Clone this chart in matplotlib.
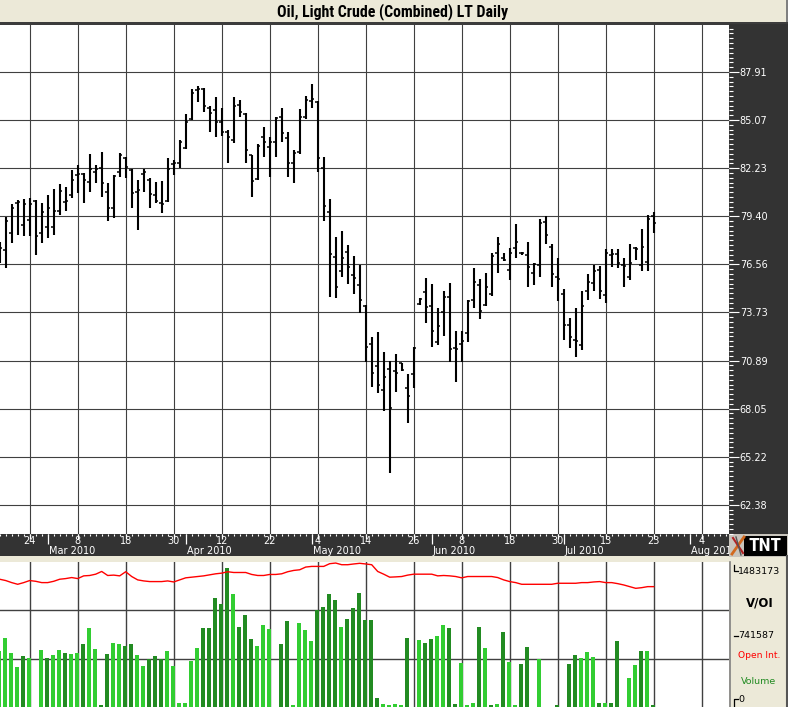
import numpy as np
import pandas as pd
import matplotlib
matplotlib.use('Agg')
import matplotlib.pyplot as plt
from matplotlib.patches import Rectangle
from matplotlib.lines import Line2D
from matplotlib.ticker import FixedLocator
from matplotlib import font_manager

# ---------------- data ----------------
first_day = '2010-02-17'
last_axis_day = '2010-08-13'
holidays = ['2010-04-02', '2010-05-31', '2010-07-05']

opens = [77.45, 77.41, 78.43, 80.20, 78.88, 79.18, 80.30, 78.40, 78.78, 78.78,
         79.71, 80.26, 80.65, 81.85, 81.88, 81.44, 82.02, 82.26, 80.85, 79.91,
         82.02, 82.85, 82.13, 80.85, 81.88, 81.54, 80.65, 80.20, 80.30, 82.47,
         82.53, 83.45, 85.14, 86.82, 86.91, 85.77, 85.67, 84.98, 84.39, 83.90,
         85.97, 85.42, 83.00, 81.58, 84.09, 83.50, 83.80, 85.27, 84.00, 82.53,
         83.21, 85.27, 86.22, 86.15, 82.25, 79.68, 77.02, 76.19, 77.29, 75.94,
         75.36, 74.13, 71.87, 70.57, 69.17, 70.37, 70.27, 70.73, 69.27, 70.10,
         74.22, 74.95, 74.11, 72.00, 73.77, 74.66, 71.63, 71.87, 72.50, 74.46,
         75.35, 74.15, 74.81, 77.21, 76.92, 76.23, 77.51, 77.25, 77.12, 76.07,
         76.53, 79.04, 77.58, 75.84, 74.81, 72.98, 72.10, 71.81, 75.02, 75.47,
         76.23, 74.76, 77.10, 77.17, 76.53, 75.84, 77.51, 76.53, 76.70, 79.42]
highs = [77.90, 79.37, 80.11, 80.36, 80.42, 80.50, 80.36, 80.17, 80.65, 81.01,
         81.29, 81.14, 82.13, 82.42, 81.94, 83.06, 82.42, 83.17, 81.35, 81.84,
         83.11, 82.91, 82.19, 81.54, 82.19, 81.64, 81.44, 81.48, 82.86, 82.72,
         83.90, 85.43, 86.91, 87.10, 86.99, 85.92, 86.42, 85.77, 84.49, 86.42,
         86.26, 85.47, 83.01, 83.64, 84.68, 84.09, 85.27, 85.77, 84.35, 83.31,
         85.73, 86.52, 87.18, 86.20, 82.91, 80.42, 78.20, 78.53, 77.69, 77.06,
         76.53, 74.17, 72.30, 72.56, 71.38, 70.86, 71.26, 70.76, 70.10, 71.71,
         74.56, 75.74, 75.39, 73.97, 75.02, 75.44, 72.63, 72.65, 74.46, 76.33,
         75.68, 76.04, 77.21, 78.16, 77.25, 77.51, 78.94, 77.31, 77.87, 76.63,
         79.22, 79.42, 77.74, 76.92, 75.09, 73.38, 73.97, 75.02, 76.00, 76.53,
         76.47, 77.45, 77.45, 77.45, 76.92, 77.76, 77.60, 78.65, 79.48, 79.64]
lows = [76.63, 76.33, 77.81, 78.29, 78.24, 78.24, 77.12, 77.81, 78.10, 78.29,
        79.47, 79.71, 80.50, 80.75, 80.17, 80.85, 81.35, 80.55, 79.14, 79.32,
        81.73, 81.67, 79.87, 78.59, 80.85, 79.91, 80.17, 79.58, 80.26, 81.84,
        82.23, 83.37, 85.08, 86.12, 85.53, 84.39, 84.09, 84.15, 82.53, 83.70,
        85.27, 82.53, 80.55, 81.54, 82.91, 81.73, 82.91, 83.80, 81.73, 81.35,
        83.06, 85.14, 85.77, 82.03, 79.14, 74.62, 74.56, 75.84, 75.39, 74.80,
        73.68, 70.82, 69.31, 68.96, 67.93, 64.24, 69.05, 70.29, 67.19, 69.25,
        74.17, 73.12, 71.67, 71.81, 72.34, 70.82, 69.63, 70.80, 72.00, 73.97,
        73.32, 74.11, 74.69, 76.07, 76.78, 75.64, 76.92, 77.12, 75.21, 75.35,
        75.84, 77.76, 75.21, 74.42, 72.10, 71.61, 71.12, 71.51, 74.46, 75.02,
        74.50, 74.27, 76.43, 76.33, 75.25, 75.64, 76.82, 76.19, 76.19, 78.43]
closes = [77.50, 79.14, 79.87, 80.26, 80.11, 80.11, 78.25, 79.67, 79.91, 79.71,
          80.90, 80.30, 81.54, 81.90, 81.54, 82.17, 82.19, 81.35, 79.87, 81.78,
          83.01, 82.32, 80.75, 80.95, 82.02, 80.70, 80.30, 80.11, 82.17, 82.53,
          83.80, 84.94, 86.65, 86.88, 85.92, 85.47, 84.98, 84.39, 84.09, 85.92,
          85.57, 83.31, 81.48, 83.56, 83.80, 83.80, 85.17, 84.29, 82.53, 83.11,
          85.27, 86.26, 86.30, 82.82, 80.02, 77.17, 75.21, 76.92, 76.43, 75.74,
          74.46, 71.71, 70.18, 69.45, 69.91, 68.11, 70.13, 70.33, 68.79, 71.61,
          74.50, 74.07, 72.65, 72.95, 74.66, 71.60, 71.57, 72.06, 74.40, 75.54,
          73.83, 75.21, 77.06, 77.76, 76.82, 77.25, 77.90, 77.21, 76.43, 76.60,
          78.99, 78.30, 76.02, 75.70, 72.98, 72.29, 72.06, 74.11, 75.54, 76.19,
          75.02, 77.21, 77.15, 76.66, 76.47, 76.63, 77.45, 77.57, 79.25, 79.02]

# volume and open interest, thousands of contracts
volume_k = [599, 736, 574, 422, 541, 520, 0, 606, 520, 552,
            606, 574, 563, 574, 671, 845, 617, 22, 563, 682,
            671, 650, 671, 552, 433, 509, 541, 516, 595, 433,
            47, 47, 487, 628, 845, 845, 1169, 1104, 1483.173, 1202,
            855, 985, 725, 650, 877, 834, 0, 671, 920, 22,
            899, 823, 704, 1032, 1072, 1202, 1137, 855, 942, 1061,
            1213, 931, 931, 97, 32, 22, 32, 22, 736, 0,
            715, 682, 725, 758, 877, 845, 32, 466, 22, 43,
            855, 628, 22, 32, 801, 476, 22, 455, 639, 0,
            509, 0, 0, 22, 0, 455, 552, 520, 585, 531,
            43, 43, 43, 704, 0, 314, 444, 595, 595, 22]
volume_dark = [0, 0, 0, 0, 1, 0, 0, 0, 1, 0,
               0, 1, 0, 0, 1, 0, 0, 1, 1, 0,
               0, 1, 1, 0, 0, 1, 1, 1, 0, 0,
               0, 0, 0, 0, 1, 1, 1, 1, 1, 0,
               1, 1, 1, 0, 0, 0, 0, 1, 1, 0,
               0, 0, 0, 1, 1, 1, 1, 0, 1, 1,
               1, 1, 1, 1, 0, 0, 0, 0, 1, 0,
               0, 1, 1, 0, 0, 1, 1, 0, 0, 0,
               1, 0, 1, 0, 1, 0, 0, 1, 1, 0,
               0, 0, 0, 1, 0, 1, 1, 0, 0, 0,
               1, 0, 1, 1, 0, 0, 0, 1, 0, 1]
open_int_k = [1364, 1350, 1328, 1310, 1328, 1350, 1342, 1328, 1328, 1342,
              1364, 1371, 1382, 1371, 1400, 1404, 1418, 1447, 1404, 1408,
              1400, 1444, 1393, 1357, 1346, 1339, 1339, 1339, 1346, 1335,
              1357, 1379, 1386, 1393, 1400, 1411, 1422, 1429, 1444, 1436,
              1436, 1436, 1415, 1404, 1404, 1415, 1415, 1422, 1444, 1458,
              1465, 1494, 1501, 1501, 1501, 1530, 1537, 1519, 1519, 1527,
              1534, 1527, 1519, 1447, 1418, 1386, 1389, 1393, 1408, 1418,
              1418, 1418, 1418, 1400, 1404, 1400, 1393, 1379, 1393, 1393,
              1393, 1393, 1393, 1382, 1357, 1339, 1328, 1310, 1310, 1310,
              1310, 1310, 1310, 1321, 1321, 1321, 1321, 1328, 1328, 1335,
              1339, 1328, 1328, 1317, 1303, 1285, 1267, 1274, 1285, 1285]

price_ticks = [87.91, 85.07, 82.23, 79.40, 76.56, 73.73, 70.89, 68.05, 65.22, 62.38]
date_ticks = ['2010-02-24', '2010-03-08', '2010-03-18', '2010-03-30', '2010-04-12',
              '2010-04-22', '2010-05-04', '2010-05-14', '2010-05-26', '2010-06-08',
              '2010-06-18', '2010-06-30', '2010-07-13', '2010-07-23', '2010-08-04']
vol_scale_labels = ['1483173', '741587', '0']
title = 'Oil, Light Crude (Combined) LT Daily'

# ---------------- layout helpers ----------------
W, H = 788, 707
fig = plt.figure(figsize=(W / 100, H / 100), dpi=100)
BEIGE = '#ECE9D8'
DARK = '#333333'
GRID = '#404040'
fig.patch.set_facecolor(BEIGE)

UI = 'DejaVu Sans'
fonts = font_manager.fontManager.ttflist
names = {f.name for f in fonts}
title_kw = dict(family='Liberation Sans', fontweight='bold')
for cand in ['Liberation Sans Narrow', 'Arial Narrow', 'Roboto Condensed',
             'Open Sans Condensed', 'DejaVu Sans Condensed']:
    if cand in names:
        title_kw = dict(family=cand, fontweight='bold')
        break
else:
    if any(f.name == 'DejaVu Sans' and str(f.stretch) in ('condensed', '300') for f in fonts):
        title_kw = dict(family='DejaVu Sans', fontweight='bold', fontstretch='condensed')


def fx(px):
    return px / W


def fy(py):
    return 1 - py / H


def frect(x0, y0, x1, y1, color, z=-1):
    r = Rectangle((fx(x0), fy(y1)), fx(x1) - fx(x0), fy(y0) - fy(y1),
                  transform=fig.transFigure, facecolor=color, edgecolor='none', zorder=z)
    fig.add_artist(r)


def fline(xs, ys, color, lw=1.0, z=5):
    fig.add_artist(Line2D([fx(x) for x in xs], [fy(y) for y in ys], color=color, lw=lw,
                          transform=fig.transFigure, zorder=z))


# trading-day calendar
days = pd.bdate_range(first_day, last_axis_day)
days = days[~days.isin(pd.to_datetime(holidays))]
pos = {d: k for k, d in enumerate(days)}
n = len(opens)
idx = np.arange(n)
all_idx = np.arange(len(days))
grid_idx = [pos[pd.Timestamp(d)] for d in date_ticks]
month_first = [k for k in range(1, len(days)) if days[k].month != days[k - 1].month]
XL = (0.05, 121.55)

# ---------------- frame pieces ----------------
frect(0, 22, 788, 24.5, '#3C3C3C', z=-1)          # line under title
frect(729, 24, 788, 534, DARK, z=-1)               # price scale panel
frect(786, 0, 788, 22, '#7F7F7F', z=-1)
ttl = fig.text(fx(393), fy(12), title, ha='center', va='center', fontsize=10.5,
               color='black', **title_kw)
fig.canvas.draw()
tw = ttl.get_window_extent().width
ttl.set_fontsize(min(12.0, 10.5 * 232.0 / tw))

# ---------------- main price panel ----------------
ax = fig.add_axes([0, fy(534), fx(729), (534 - 25) / H])
ax.set_facecolor('white')
ax.set_xlim(*XL)
ax.set_ylim(60.66, 90.68)
for s in ax.spines.values():
    s.set_visible(False)
ax.set_xticks(grid_idx)
ax.tick_params(axis='x', length=0, labelbottom=False)
ax.yaxis.tick_right()
ax.set_yticks(price_ticks)
ax.set_yticklabels([f'{v:.2f}' for v in price_ticks], family=UI)
step = (price_ticks[0] - price_ticks[-1]) / 90
ax.yaxis.set_minor_locator(FixedLocator([price_ticks[-1] + k * step for k in range(-10, 110)]))
ax.tick_params(axis='y', which='major', direction='out', length=7.2, width=0.8,
               colors='white', labelsize=7, pad=0.5)
ax.tick_params(axis='y', which='minor', direction='out', length=2.9, width=0.8, colors='white')
ax.grid(True, which='major', color=GRID, lw=0.8, zorder=0)
ax.set_axisbelow(True)

ax.vlines(idx, lows, highs, color='black', lw=1.5, zorder=3)
ax.hlines(opens, idx - 0.42, idx, color='black', lw=1.1, zorder=3)
ax.hlines(closes, idx, idx + 0.42, color='black', lw=1.1, zorder=3)

# ---------------- date strip ----------------
axd = fig.add_axes([0, fy(556), fx(729), (556 - 534) / H])
axd.set_facecolor(DARK)
axd.set_xlim(*XL)
axd.set_ylim(0, 1)
axd.set_xticks([])
axd.set_yticks([])
for s in axd.spines.values():
    s.set_visible(False)
axd.vlines(all_idx, 0.92, 1.0, color='white', lw=0.8)
axd.vlines(grid_idx, 0.78, 1.0, color='white', lw=0.9)
axd.vlines(month_first, 0.54, 1.0, color='white', lw=0.9)
for d, k in zip(date_ticks, grid_idx):
    axd.text(k, 0.66, str(pd.Timestamp(d).day), ha='center', va='center',
             color='white', fontsize=7, family=UI)
for k in month_first:
    axd.text(k + 0.15, 0.25, days[k].strftime('%b %Y'), ha='left', va='center',
             color='white', fontsize=7, family=UI, clip_on=True)

# TNT logo
frect(729, 534, 788, 557, '#C8C4BC', z=-1)
frect(744, 535.5, 787, 556, 'black', z=1)
fline([732, 744], [554, 537], '#D2691E', lw=2.0)
fline([733, 743], [538, 553], '#B22222', lw=1.5)
fline([736, 741], [537, 555], '#555555', lw=1.0)
fig.text(fx(765.5), fy(546), 'TNT', ha='center', va='center', fontsize=14,
         color='white', zorder=6, **title_kw)

# ---------------- volume / open interest panel ----------------
axv = fig.add_axes([0, 0, fx(729), (707 - 562) / H])
axv.set_facecolor('white')
axv.set_xlim(*XL)
axv.set_ylim(0, 1548)
for s in axv.spines.values():
    s.set_visible(False)
axv.set_xticks(grid_idx)
axv.set_yticks([1548 / 3, 2 * 1548 / 3])
axv.tick_params(length=0, labelbottom=False, labelleft=False)
axv.grid(True, color=GRID, lw=1.0, zorder=0)
axv.set_axisbelow(True)
bar_colors = ['#228B22' if dk else '#32CD32' for dk in volume_dark]
axv.bar(idx - 0.1, volume_k, width=0.62, color=bar_colors, zorder=2)
axv.plot(idx, open_int_k, color='#FF0000', lw=1.0, zorder=3)

# right legend panel of lower section
fline([730, 730], [562, 707], '#808080', lw=1.2)
fline([786.5, 786.5], [556, 707], '#555555', lw=1.5)
fline([733.5, 733.5, 737.5], [565, 571, 571], 'black', lw=0.9)
fline([733.5, 737.5], [635.5, 635.5], 'black', lw=0.9)
fline([737.5, 733.5, 733.5], [699, 699, 706], 'black', lw=0.9)
fig.text(fx(738), fy(571.5), vol_scale_labels[0], ha='left', va='center', fontsize=6.8, family=UI)
fig.text(fx(738), fy(635.5), vol_scale_labels[1], ha='left', va='center', fontsize=6.8, family=UI)
fig.text(fx(738), fy(699), vol_scale_labels[2], ha='left', va='center', fontsize=6.8, family=UI)
fig.text(fx(759.5), fy(603), 'V/OI', ha='center', va='center', fontsize=8.5,
         fontweight='bold', family=UI)
fig.text(fx(759), fy(655.5), 'Open Int.', ha='center', va='center', fontsize=6.6,
         family=UI, color='#FF0000')
fig.text(fx(758.5), fy(681.5), 'Volume', ha='center', va='center', fontsize=6.8,
         family=UI, color='#228B22')

fig.savefig('out.png', dpi=100, facecolor=fig.get_facecolor())
